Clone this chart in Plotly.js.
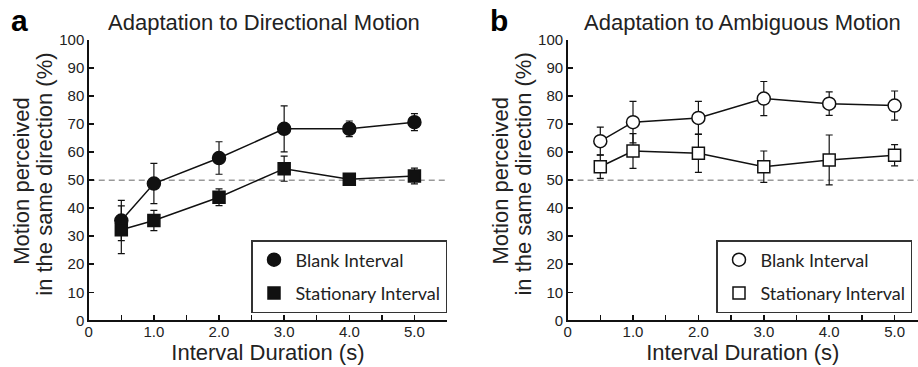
<!DOCTYPE html>
<html>
<head>
<meta charset="utf-8">
<script src="https://cdn.plot.ly/plotly-3.0.1.min.js"></script>
<style>
  html, body { margin: 0; padding: 0; background: #fff; }
  #chart { width: 918px; height: 367px; }
</style>
</head>
<body>
<div id="chart"></div>
<script>
// ---- data ----
const durations = [0.5, 1.0, 2.0, 3.0, 4.0, 5.0];

// Panel a: Adaptation to Directional Motion
const dirBlank    = [35.6, 48.8, 57.9, 68.3, 68.3, 70.7];
const dirBlankErr = [7.2, 7.2, 5.8, 8.2, 2.8, 3.0];
const dirStat     = [32.3, 35.6, 43.9, 54.1, 50.3, 51.5];
const dirStatErr  = [8.5, 3.6, 3.0, 4.5, 1.0, 2.8];

// Panel b: Adaptation to Ambiguous Motion
const ambBlank    = [63.9, 70.7, 72.2, 79.1, 77.3, 76.6];
const ambBlankErr = [5.0, 7.4, 5.9, 6.1, 4.2, 5.2];
const ambStat     = [54.8, 60.4, 59.6, 54.8, 57.2, 58.9];
const ambStatErr  = [4.2, 6.2, 6.8, 5.6, 8.9, 3.8];

const seriesNames = ['Blank Interval', 'Stationary Interval'];
const panelTitles = ['Adaptation to Directional Motion', 'Adaptation to Ambiguous Motion'];
const panelLetters = ['a', 'b'];
const xTitle = 'Interval Duration (s)';
const yTitleLines = ['Motion perceived', 'in the same direction (%)'];
const chanceLevel = 50;

const xTickVals = [0, 0.5, 1.0, 1.5, 2.0, 2.5, 3.0, 3.5, 4.0, 4.5, 5.0, 5.5];
const xTickText = ['0', '', '1.0', '', '2.0', '', '3.0', '', '4.0', '', '5.0', ''];
const yTickVals = [0, 10, 20, 30, 40, 50, 60, 70, 80, 90, 100];

// ---- layout helpers ----
const W = 918, H = 367;
const px = v => v / W;
const py = v => 1 - v / H;
const INK = '#111';
const TXT = '#222';
const SANS = 'Liberation Sans, Arial, sans-serif';
const tickFont = { family: SANS, size: 15, color: TXT };

function lineTrace(x, y, xa, ya) {
  return { x, y, xaxis: xa, yaxis: ya, mode: 'lines', showlegend: false, hoverinfo: 'skip',
           line: { color: INK, width: 1.5 } };
}
function markTrace(x, y, err, xa, ya, name, symbol, filled, legend, group) {
  return { x, y, xaxis: xa, yaxis: ya, mode: 'markers', name, legend, legendgroup: group,
           error_y: { type: 'data', array: err, visible: true, color: INK, thickness: 1.2, width: 3.5 },
           marker: { symbol, size: symbol === 'square' ? 12 : 13,
                     color: filled ? INK : '#fff', line: { color: INK, width: 1.5 } } };
}

const traces = [
  lineTrace(durations, dirBlank, 'x', 'y'),
  markTrace(durations, dirBlank, dirBlankErr, 'x', 'y', seriesNames[0], 'circle', true, 'legend', 'a1'),
  lineTrace(durations, dirStat, 'x', 'y'),
  markTrace(durations, dirStat, dirStatErr, 'x', 'y', seriesNames[1], 'square', true, 'legend', 'a2'),
  lineTrace(durations, ambBlank, 'x2', 'y2'),
  markTrace(durations, ambBlank, ambBlankErr, 'x2', 'y2', seriesNames[0], 'circle', false, 'legend2', 'b1'),
  lineTrace(durations, ambStat, 'x2', 'y2'),
  markTrace(durations, ambStat, ambStatErr, 'x2', 'y2', seriesNames[1], 'square', false, 'legend2', 'b2'),
];

const yDomain = [py(320.3), py(40)];
const axisX = (domain, range) => ({
  domain, range, tickmode: 'array', tickvals: xTickVals, ticktext: xTickText,
  ticks: 'inside', ticklen: 5, tickwidth: 1.5, tickcolor: INK,
  showline: true, linewidth: 1.5, linecolor: INK, showgrid: false, zeroline: false,
  tickfont: tickFont, ticklabelstandoff: -3, fixedrange: true,
  title: { text: xTitle, font: { family: SANS, size: 22, color: TXT }, standoff: 3 }
});
const axisY = (anchor) => ({
  domain: yDomain, range: [0, 100], anchor, tickmode: 'array', tickvals: yTickVals,
  ticks: 'inside', ticklen: 5, tickwidth: 1.5, tickcolor: INK,
  showline: true, linewidth: 1.5, linecolor: INK, showgrid: false, zeroline: false,
  tickfont: tickFont, fixedrange: true
});

const legendStyle = (xRight) => ({
  x: xRight, xanchor: 'right', y: py(313), yanchor: 'bottom',
  bgcolor: '#fff', bordercolor: '#333', borderwidth: 1.5,
  font: { family: 'Lato, Open Sans, sans-serif', size: 18, color: TXT },
  itemwidth: 33,
  traceorder: 'grouped', tracegroupgap: 7
});

const axisLeft = [88.75, 567.6];
const annotations = [];
[0, 1].forEach(i => {
  const xa = i === 0 ? 'x' : 'x2';
  annotations.push({ xref: 'paper', yref: 'paper', x: px(axisLeft[i] - 69), y: py(20), text: '<b>' + panelLetters[i] + '</b>',
    showarrow: false, xanchor: 'center', yanchor: 'middle',
    font: { family: SANS, size: 30, color: '#000' } });
  annotations.push({ xref: xa + ' domain', yref: 'paper', x: i === 0 ? 0.49 : 0.5, y: py(22), text: panelTitles[i],
    showarrow: false, xanchor: 'center', yanchor: 'middle',
    font: { family: SANS, size: 22, color: TXT } });
  annotations.push({ xref: 'paper', yref: 'paper', x: px(axisLeft[i] - 68), y: py(181), text: yTitleLines[0],
    showarrow: false, textangle: -90, xanchor: 'center', yanchor: 'middle',
    font: { family: SANS, size: 22, color: TXT } });
  annotations.push({ xref: 'paper', yref: 'paper', x: px(axisLeft[i] - 45), y: py(174), text: yTitleLines[1],
    showarrow: false, textangle: -90, xanchor: 'center', yanchor: 'middle',
    font: { family: SANS, size: 22, color: TXT } });
});

const shapes = [['x', 'y'], ['x2', 'y2']].map(([xa, ya]) => ({
  type: 'line', xref: xa + ' domain', yref: ya, x0: 0, x1: 1, y0: chanceLevel, y1: chanceLevel,
  line: { color: '#999', width: 1.5, dash: '6px,4px' }, layer: 'below'
}));

const layout = {
  width: W, height: H, margin: { l: 0, r: 0, t: 0, b: 0 },
  paper_bgcolor: '#fff', plot_bgcolor: 'rgba(0,0,0,0)',
  showlegend: true,
  xaxis: axisX([px(88.75), px(447)], [0, 5.5]),
  yaxis: axisY('x'),
  xaxis2: axisX([px(567.6), 1], [0, (W - 567.6) / 65.4]),
  yaxis2: axisY('x2'),
  legend: legendStyle(px(447)),
  legend2: legendStyle(px(912)),
  annotations, shapes
};
layout.xaxis.anchor = 'y';
layout.xaxis2.anchor = 'y2';

Plotly.newPlot('chart', traces, layout, { staticPlot: true, displayModeBar: false });
</script>
</body>
</html>
